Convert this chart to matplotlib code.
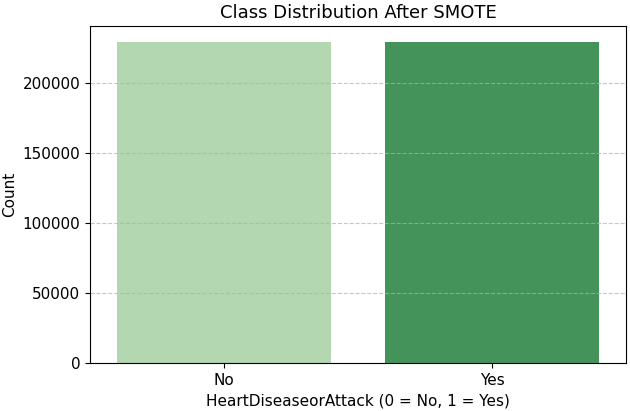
import matplotlib
matplotlib.use("Agg")
import matplotlib.pyplot as plt

# class counts after oversampling
classes = ["No", "Yes"]
counts = [229000, 229000]
bar_colors = ["#b3d7b0", "#43935b"]

fig = plt.figure(figsize=(6.3, 4.11), dpi=100)
ax = fig.add_axes([0.143, 0.117, 0.851, 0.820])

ax.bar(classes, counts, width=0.8, color=bar_colors)
ax.set_xlim(-0.5, 1.5)
ax.set_ylim(0, max(counts) * 1.05)

ax.set_title("Class Distribution After SMOTE", fontsize=13)
ax.set_xlabel("HeartDiseaseorAttack (0 = No, 1 = Yes)", fontsize=11)
ax.set_ylabel("Count", fontsize=11)
ax.tick_params(labelsize=11)

ax.grid(axis="y", linestyle="--", alpha=0.7)

fig.savefig("out.png", dpi=100)
